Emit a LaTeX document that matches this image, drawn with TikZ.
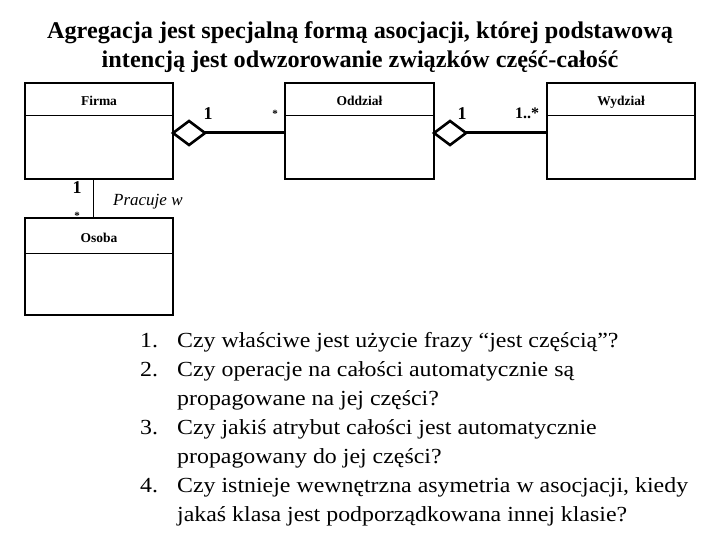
\documentclass[tikz,border=0pt]{standalone}
\usepackage{fontspec}
\setmainfont{Liberation Serif}
\usetikzlibrary{shapes.geometric}
\tikzset{
  cls/.style={draw, line width=2pt, minimum width=148pt, minimum height=96pt, inner sep=0pt, outer sep=0pt},
  clsname/.style={font=\fontsize{13.5}{14}\selectfont\bfseries, inner sep=0pt, anchor=base},
  agg/.style={draw, diamond, line width=2.6pt, minimum width=32pt, minimum height=24pt, inner sep=0pt, outer sep=0pt, fill=white},
  assoc/.style={line width=3pt},
  mult/.style={font=\fontsize{18}{18}\selectfont\bfseries, inner sep=0pt, anchor=base},
  star/.style={font=\fontsize{11}{11}\selectfont\bfseries, inner sep=0pt, anchor=base},
  item/.style={font=\fontsize{21.5}{21.5}\selectfont, inner sep=0pt, anchor=base west},
  ttl/.style={font=\fontsize{24}{24}\selectfont\bfseries, inner sep=0pt, anchor=base}
}
\newcommand{\wide}[1]{\scalebox{1.11}[1]{#1}}
\begin{document}
\begin{tikzpicture}[x=1pt,y=-1pt]
\useasboundingbox (0,0) rectangle (720,540);
% title
\node[ttl] (t1) at (360,39) {\scalebox{1.01}[1]{Agregacja jest specjalną formą asocjacji, której podstawową}};
\node[ttl] (t2) at (360,68) {\scalebox{1.01}[1]{intencją jest odwzorowanie związków część-całość}};
% classes
\node[cls] (firma) at (99,131) {};
\node[cls, minimum width=149pt] (oddzial) at (359.5,131) {};
\node[cls] (wydzial) at (621,131) {};
\node[cls, minimum height=97pt] (osoba) at (99,266.5) {};
\draw[line width=1pt] ([yshift=-33pt]firma.north west) -- ([yshift=-33pt]firma.north east);
\draw[line width=1pt] ([yshift=-33pt]oddzial.north west) -- ([yshift=-33pt]oddzial.north east);
\draw[line width=1pt] ([yshift=-33pt]wydzial.north west) -- ([yshift=-33pt]wydzial.north east);
\draw[line width=1pt] ([yshift=-35pt]osoba.north west) -- ([yshift=-35pt]osoba.north east);
\node[clsname] (nfirma) at (99,106) {Firma};
\node[clsname] (noddzial) at (359.5,106) {Oddział};
\node[clsname] (nwydzial) at (621,106) {Wydział};
\node[clsname] (nosoba) at (99,243) {Osoba};
% aggregations
\node[agg, anchor=west] (d1) at (firma.east |- 0,133) {};
\node[agg, anchor=west] (d2) at (oddzial.east |- 0,133) {};
\draw[assoc] (d1.east) -- (d1.east -| oddzial.west);
\draw[assoc] (d2.east) -- (d2.east -| wydzial.west);
\node[mult] (m1) at (208,120) {1};
\node[star] (m2) at (275,118) {*};
\node[mult] (m3) at (462,120) {1};
\node[mult, font=\fontsize{16}{16}\selectfont\bfseries] (m4) at (527,119) {1..*};
% association Firma - Osoba
\draw[line width=1pt] ([xshift=-6pt]firma.south) -- ([xshift=-6pt]osoba.north);
\node[mult] (m5) at (77,194) {1};
\node[star] (m6) at (77,220) {*};
\node[font=\fontsize{17}{17}\selectfont\itshape, inner sep=0pt, anchor=base west] (lab) at (113,206) {Pracuje w};
% list
\node[item] (n1) at (140,347) {\wide{1.}};
\node[item] (l1) at (177,347) {\wide{Czy właściwe jest użycie frazy “jest częścią”?}};
\node[item] (n2) at (140,376) {\wide{2.}};
\node[item] (l2) at (177,376) {\wide{Czy operacje na całości automatycznie są}};
\node[item] (l3) at (177,405) {\wide{propagowane na jej części?}};
\node[item] (n3) at (140,434) {\wide{3.}};
\node[item] (l4) at (177,434) {\wide{Czy jakiś atrybut całości jest automatycznie}};
\node[item] (l5) at (177,463) {\wide{propagowany do jej części?}};
\node[item] (n4) at (140,492) {\wide{4.}};
\node[item] (l6) at (177,492) {\wide{Czy istnieje wewnętrzna asymetria w asocjacji, kiedy}};
\node[item] (l7) at (177,521) {\wide{jakaś klasa jest podporządkowana innej klasie?}};
\end{tikzpicture}
\end{document}
